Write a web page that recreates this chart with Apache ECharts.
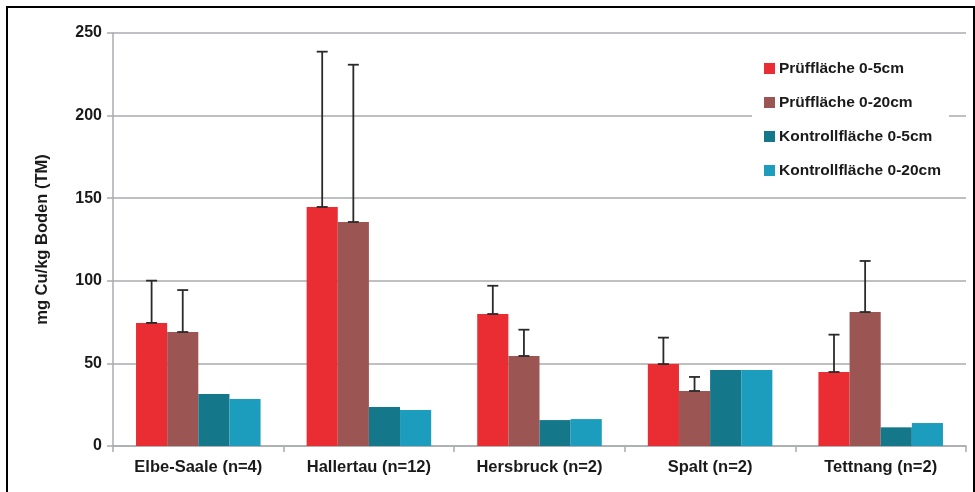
<!DOCTYPE html>
<html>
<head>
<meta charset="utf-8">
<script src="https://cdn.jsdelivr.net/npm/echarts@6/dist/echarts.min.js"></script>
<style>
  html, body { margin: 0; padding: 0; background: #fff; }
  #chart { width: 975px; height: 492px; }
</style>
</head>
<body>
<div id="chart"></div>
<script>
// Kupfergehalte im Boden je Anbaugebiet
const categories = ['Elbe-Saale (n=4)', 'Hallertau (n=12)', 'Hersbruck (n=2)', 'Spalt (n=2)', 'Tettnang (n=2)'];
const seriesNames = ['Prüffläche 0-5cm', 'Prüffläche 0-20cm', 'Kontrollfläche 0-5cm', 'Kontrollfläche 0-20cm'];

const pruef5 = [74.5, 144.7, 79.9, 49.6, 44.8];
const pruef20 = [69.0, 135.6, 54.5, 33.3, 81.1];
const kontroll5 = [31.5, 23.6, 15.7, 46.0, 11.3];
const kontroll20 = [28.4, 21.8, 16.3, 46.0, 13.9];

// Standardabweichung (nach oben) für die Prüfflächen
const sdPruef5 = [25.6, 94.0, 17.1, 16.0, 22.6];
const sdPruef20 = [25.4, 95.2, 15.9, 8.5, 30.9];

const yTicks = { min: 0, max: 250, interval: 50 };

const colors = ['#e92d33', '#9b5552', '#15788a', '#1c9dbd'];
const barGapRatio = 0.27;
const FONT = 'Liberation Sans, Arial, sans-serif';

const chart = echarts.init(document.getElementById('chart'));

function errorSeries(values, sds, slot) {
  return {
    type: 'custom',
    name: 'err' + slot,
    z: 10,
    silent: true,
    tooltip: { show: false },
    renderItem: function (params, api) {
      const idx = api.value(0);
      const top = api.value(1) + api.value(2);
      const band = api.size([1, 0])[0];
      const barW = band * (1 - barGapRatio) / 4;
      const base = api.coord([idx, api.value(1)]);
      const hi = api.coord([idx, top]);
      const x = base[0] + (slot - 1.5) * barW;
      const cap = 5.5;
      const style = { stroke: '#2a2a2a', lineWidth: 1.8 };
      return {
        type: 'group',
        children: [
          { type: 'line', shape: { x1: x, y1: base[1], x2: x, y2: hi[1] }, style: style },
          { type: 'line', shape: { x1: x - cap, y1: hi[1], x2: x + cap, y2: hi[1] }, style: style },
          { type: 'line', shape: { x1: x - cap, y1: base[1], x2: x + cap, y2: base[1] }, style: style }
        ]
      };
    },
    data: values.map((v, i) => [i, v, sds[i]])
  };
}

const barData = [pruef5, pruef20, kontroll5, kontroll20];

const option = {
  animation: false,
  backgroundColor: '#ffffff',
  graphic: [{
    type: 'rect',
    shape: { x: 7, y: 7, width: 967, height: 490 },
    style: { fill: 'none', stroke: '#000', lineWidth: 2 },
    z: 100
  }],
  grid: { left: 113, right: 9, top: 33, bottom: 46 },
  legend: {
    orient: 'vertical',
    left: 752,
    top: 52,
    padding: [8, 8, 8, 12],
    backgroundColor: '#ffffff',
    itemWidth: 11,
    itemHeight: 11,
    itemGap: 17,
    icon: 'rect',
    data: seriesNames,
    textStyle: { fontFamily: FONT, fontWeight: 'bold', fontSize: 15.5, lineHeight: 17, color: '#1a1a1a', padding: [0, 0, 0, -1] },
    z: 20
  },
  xAxis: {
    type: 'category',
    data: categories,
    axisLine: { lineStyle: { color: '#a8abb0', width: 1.5 } },
    axisTick: { show: true, length: 6, lineStyle: { color: '#a8abb0', width: 1.5 } },
    axisLabel: { margin: 13, fontFamily: FONT, fontWeight: 'bold', fontSize: 16.5, color: '#1a1a1a' }
  },
  yAxis: {
    type: 'value',
    min: yTicks.min,
    max: yTicks.max,
    interval: yTicks.interval,
    name: 'mg Cu/kg Boden (TM)',
    nameLocation: 'middle',
    nameGap: 62,
    nameTextStyle: { fontFamily: FONT, fontWeight: 'bold', fontSize: 16.5, color: '#1a1a1a' },
    axisLine: { show: true, lineStyle: { color: '#a8abb0', width: 1.5 } },
    axisTick: { show: true, length: 6, lineStyle: { color: '#a8abb0', width: 1.5 } },
    axisLabel: { margin: 11, fontFamily: FONT, fontWeight: 'bold', fontSize: 16, color: '#1a1a1a' },
    splitLine: { lineStyle: { color: '#a8abb0', width: 1.5 } }
  },
  series: barData.map((vals, i) => ({
    type: 'bar',
    name: seriesNames[i],
    data: vals,
    barGap: '0%',
    barCategoryGap: (barGapRatio * 100) + '%',
    itemStyle: { color: colors[i] }
  })).concat([
    errorSeries(pruef5, sdPruef5, 0),
    errorSeries(pruef20, sdPruef20, 1)
  ])
};

chart.setOption(option);
</script>
</body>
</html>
